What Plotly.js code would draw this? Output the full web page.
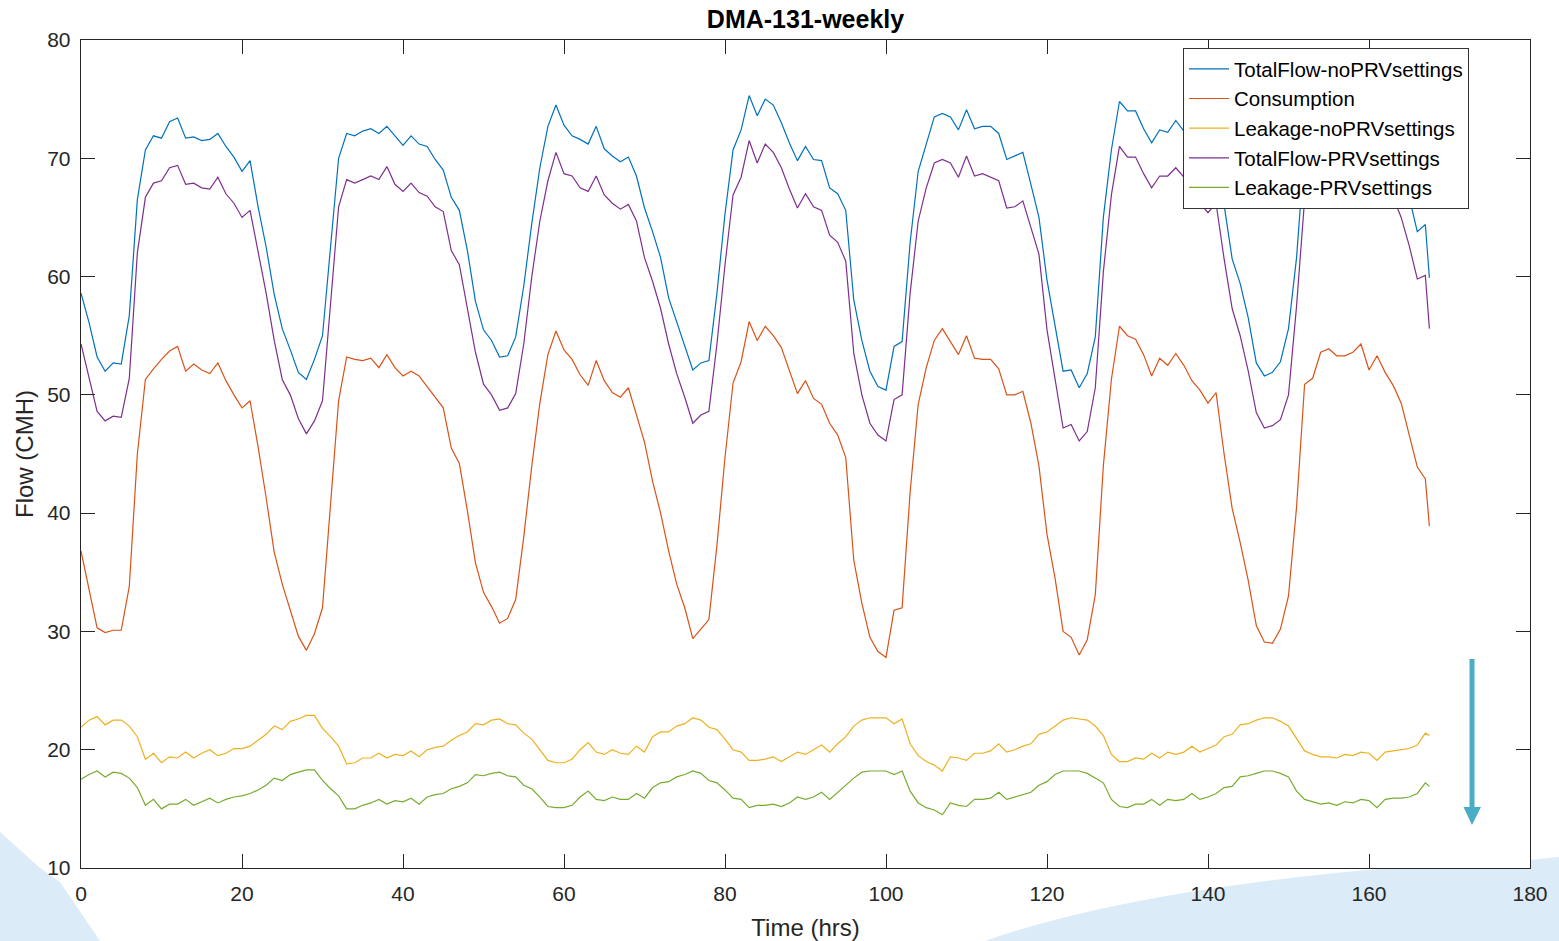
<!DOCTYPE html>
<html>
<head>
<meta charset="utf-8">
<script src="https://cdn.plot.ly/plotly-3.0.1.min.js"></script>
<style>
  html, body { margin: 0; padding: 0; background: #ffffff; }
  #chart { width: 1559px; height: 941px; }
</style>
</head>
<body>
<div id="chart"></div>
<script>
// ---- data (hourly readings, last sample at 167.5 h) ----
const hours = Array.from({length: 168}, (_, i) => i).concat([167.5]);

const totalFlowNoPRV = [
  58.6, 56.1, 53.2, 52.0, 52.7, 52.6, 56.7, 66.5, 70.7, 71.9,
  71.7, 73.1, 73.4, 71.7, 71.8, 71.5, 71.6, 72.1, 71.0, 70.1,
  68.9, 69.8, 65.9, 62.5, 58.5, 55.6, 53.8, 51.9, 51.3, 53.0,
  55.0, 62.5, 70.0, 72.1, 71.9, 72.3, 72.5, 72.1, 72.7, 71.9,
  71.1, 71.9, 71.2, 71.0, 69.9, 69.0, 66.7, 65.6, 62.2, 57.9,
  55.5, 54.6, 53.2, 53.3, 54.9, 59.2, 64.5, 69.2, 72.7, 74.5,
  72.8, 71.9, 71.6, 71.2, 72.7, 70.8, 70.2, 69.7, 70.1, 68.5,
  65.8, 63.8, 61.6, 58.2, 56.1, 54.1, 52.1, 52.7, 52.9, 58.6,
  65.3, 70.7, 72.4, 75.3, 73.6, 75.0, 74.5, 73.0, 71.3, 69.8,
  71.0, 69.9, 69.8, 67.5, 67.0, 65.6, 58.0, 54.6, 52.0, 50.7,
  50.4, 54.1, 54.5, 62.9, 68.9, 71.2, 73.5, 73.8, 73.5, 72.4,
  74.1, 72.5, 72.7, 72.7, 72.1, 69.9, 70.2, 70.5, 67.8, 65.0,
  59.7, 55.8, 52.0, 52.1, 50.6, 51.8, 54.9, 65.0, 70.7, 74.8,
  74.0, 74.0, 72.5, 71.3, 72.4, 72.2, 73.2, 72.3, 71.5, 70.2,
  69.4, 70.6, 66.0, 61.5, 59.4, 56.5, 52.7, 51.6, 51.9, 52.8,
  55.6, 61.6, 70.8, 71.0, 73.0, 73.3, 72.6, 72.9, 73.1, 74.1,
  71.8, 72.4, 71.7, 70.7, 69.3, 66.7, 63.8, 64.4,
  59.9
];

const consumption = [
  36.8, 33.5, 30.3, 29.9, 30.1, 30.1, 33.8, 45.0, 51.3, 52.2,
  53.0, 53.7, 54.1, 52.0, 52.6, 52.1, 51.8, 52.7, 51.2, 50.0,
  48.9, 49.5, 45.6, 41.3, 36.7, 34.0, 31.8, 29.6, 28.4, 29.8,
  32.0, 40.5, 49.5, 53.2, 53.0, 52.9, 53.1, 52.3, 53.4, 52.3,
  51.6, 52.0, 51.6, 50.7, 49.8, 48.9, 45.5, 44.2, 40.2, 35.8,
  33.3, 32.1, 30.7, 31.1, 32.7, 38.0, 44.0, 49.3, 53.4, 55.4,
  53.8, 53.0, 51.7, 50.8, 52.9, 51.2, 50.2, 49.8, 50.6, 48.4,
  46.0, 42.7, 40.0, 36.8, 34.0, 32.0, 29.4, 30.2, 31.0, 37.3,
  44.7, 51.0, 52.8, 56.2, 54.6, 55.8, 55.0, 54.0, 52.1, 50.1,
  51.2, 49.7, 49.2, 47.6, 46.6, 44.7, 36.0, 32.4, 29.5, 28.3,
  27.8, 31.8, 32.0, 41.8, 49.2, 52.3, 54.6, 55.6, 54.5, 53.4,
  55.0, 53.1, 53.0, 53.0, 52.2, 50.0, 50.0, 50.3, 47.6, 44.0,
  38.2, 34.5, 30.0, 29.5, 28.0, 29.3, 33.1, 44.0, 51.3, 55.8,
  55.0, 54.7, 53.4, 51.6, 53.1, 52.5, 53.5, 52.5, 51.2, 50.4,
  49.3, 50.2, 45.0, 40.4, 37.5, 34.3, 30.5, 29.1, 29.0, 30.2,
  33.0, 40.5, 50.9, 51.4, 53.6, 53.9, 53.3, 53.3, 53.6, 54.3,
  52.1, 53.3, 51.9, 50.8, 49.3, 46.6, 43.9, 42.9,
  38.9
];

const leakageNoPRV = [
  21.9, 22.5, 22.8, 22.1, 22.5, 22.5, 22.0, 21.1, 19.2, 19.7,
  18.9, 19.4, 19.3, 19.8, 19.3, 19.7, 20.0, 19.5, 19.7, 20.1,
  20.1, 20.3, 20.8, 21.3, 22.0, 21.7, 22.4, 22.6, 22.9, 22.9,
  21.8, 21.1, 20.3, 18.8, 18.9, 19.3, 19.3, 19.7, 19.3, 19.6,
  19.5, 19.9, 19.4, 20.0, 20.2, 20.3, 20.8, 21.2, 21.5, 22.2,
  22.1, 22.5, 22.6, 22.2, 22.1, 21.4, 20.9, 20.0, 19.1, 18.9,
  18.9, 19.2, 20.0, 20.6, 19.8, 19.6, 20.0, 19.7, 19.6, 20.3,
  19.8, 21.1, 21.5, 21.5, 22.0, 22.2, 22.7, 22.5, 21.9, 21.7,
  20.9, 20.0, 19.8, 19.1, 19.1, 19.2, 19.4, 19.0, 19.4, 19.8,
  19.6, 20.0, 20.4, 19.8, 20.5, 21.1, 22.0, 22.5, 22.7, 22.7,
  22.7, 22.2, 22.6, 20.5, 19.5, 19.0, 18.7, 18.2, 19.4, 19.3,
  19.1, 19.7, 19.7, 19.9, 20.5, 19.8, 20.0, 20.3, 20.5, 21.3,
  21.5, 22.0, 22.5, 22.7, 22.6, 22.5, 22.0, 21.2, 19.6, 19.0,
  19.0, 19.3, 19.2, 19.7, 19.3, 19.8, 19.6, 19.8, 20.3, 19.8,
  20.1, 20.4, 21.1, 21.3, 22.1, 22.2, 22.5, 22.7, 22.7, 22.4,
  22.0, 21.0, 19.9, 19.6, 19.4, 19.4, 19.3, 19.6, 19.5, 19.8,
  19.7, 19.1, 19.8, 19.9, 20.0, 20.1, 20.4, 21.4,
  21.2
];

const totalFlowPRV = [
  54.3, 51.5, 48.6, 47.8, 48.2, 48.1, 51.4, 62.0, 66.7, 67.9,
  68.1, 69.2, 69.4, 67.8, 67.9, 67.5, 67.4, 68.4, 67.0, 66.2,
  65.0, 65.6, 62.2, 58.6, 54.6, 51.3, 50.0, 48.0, 46.7, 47.8,
  49.5, 57.8, 65.9, 68.2, 67.9, 68.2, 68.5, 68.2, 69.3, 67.8,
  67.2, 67.9, 67.1, 66.8, 65.9, 65.5, 62.2, 61.0, 57.3, 53.6,
  50.9, 50.0, 48.7, 48.9, 50.1, 54.3, 60.0, 64.7, 68.1, 70.5,
  68.7, 68.5, 67.5, 67.2, 68.5, 66.9, 66.2, 65.7, 66.1, 64.7,
  61.6, 59.6, 57.3, 54.3, 51.8, 49.8, 47.6, 48.3, 48.6, 54.3,
  61.0, 66.9, 68.4, 71.5, 69.6, 71.2, 70.5, 69.2, 67.4, 65.8,
  67.0, 65.9, 65.6, 63.5, 62.9, 61.3, 53.5, 50.0, 47.6, 46.6,
  46.1, 49.6, 50.0, 58.6, 64.7, 67.5, 69.6, 69.9, 69.6, 68.4,
  70.2, 68.5, 68.7, 68.4, 68.1, 65.8, 65.9, 66.4, 64.1, 61.9,
  55.5, 51.5, 47.2, 47.5, 46.1, 46.9, 50.6, 60.4, 66.9, 71.0,
  70.1, 70.1, 68.7, 67.5, 68.5, 68.5, 69.2, 68.4, 67.5, 66.2,
  65.4, 66.2, 61.5, 57.3, 55.0, 52.0, 48.5, 47.2, 47.4, 47.9,
  50.0, 57.5, 66.5, 67.0, 69.0, 69.4, 68.6, 68.9, 69.1, 70.1,
  67.8, 68.4, 67.7, 66.7, 65.0, 62.6, 59.8, 60.1,
  55.6
];

const leakagePRV = [
  17.5, 17.9, 18.2, 17.7, 18.1, 18.0, 17.6, 16.8, 15.3, 15.8,
  15.0, 15.4, 15.4, 15.8, 15.3, 15.6, 15.9, 15.5, 15.8, 16.0,
  16.1, 16.3, 16.6, 17.0, 17.6, 17.4, 17.9, 18.1, 18.3, 18.3,
  17.4, 16.7, 16.1, 15.0, 15.0, 15.3, 15.5, 15.8, 15.4, 15.7,
  15.6, 15.9, 15.4, 16.0, 16.2, 16.3, 16.7, 16.9, 17.2, 17.9,
  17.8, 18.0, 18.1, 17.8, 17.7, 17.0, 16.7, 16.0, 15.2, 15.1,
  15.1, 15.3, 16.0, 16.5, 15.8, 15.7, 16.0, 15.8, 15.8, 16.3,
  15.9, 16.8, 17.2, 17.3, 17.7, 17.9, 18.2, 18.0, 17.4, 17.2,
  16.6, 15.9, 15.8, 15.1, 15.3, 15.3, 15.4, 15.2, 15.5, 16.0,
  15.8, 16.0, 16.4, 15.8, 16.4, 17.0, 17.6, 18.1, 18.2, 18.2,
  18.2, 17.9, 18.2, 16.5, 15.5, 15.1, 14.9, 14.5, 15.5, 15.3,
  15.2, 15.8, 15.8, 15.9, 16.4, 15.8, 16.0, 16.2, 16.4, 17.0,
  17.3, 17.9, 18.2, 18.2, 18.2, 18.0, 17.6, 17.2, 15.8, 15.2,
  15.1, 15.4, 15.4, 15.8, 15.3, 15.8, 15.7, 15.8, 16.3, 15.8,
  16.0, 16.3, 16.8, 16.9, 17.7, 17.8, 18.0, 18.2, 18.2, 18.0,
  17.7, 16.5, 15.8, 15.6, 15.4, 15.5, 15.3, 15.6, 15.5, 15.8,
  15.7, 15.1, 15.8, 15.9, 15.9, 16.0, 16.3, 17.2,
  16.9
];

const seriesNames = ['TotalFlow-noPRVsettings', 'Consumption', 'Leakage-noPRVsettings', 'TotalFlow-PRVsettings', 'Leakage-PRVsettings'];
const seriesColors = ['#0072BD', '#D95319', '#EDB120', '#7E2F8E', '#77AC30'];
const seriesValues = [totalFlowNoPRV, consumption, leakageNoPRV, totalFlowPRV, leakagePRV];

const xTicks = [0, 20, 40, 60, 80, 100, 120, 140, 160, 180];
const yTicks = [10, 20, 30, 40, 50, 60, 70, 80];

// ---- decoration helpers (pixel -> paper) ----
const W = 1559, H = 941, ML = 81, MR = 29, MT = 40, MB = 73;
const PW = W - ML - MR, PH = H - MT - MB;
function px(x) { return ((x - ML) / PW).toFixed(5); }
function py(y) { return ((H - MB - y) / PH).toFixed(5); }
function pt(x, y) { return px(x) + ',' + py(y); }

const leftDeco = 'M ' + pt(0, 832) + ' L ' + pt(40, 868) + ' L ' + pt(60, 882) +
  ' L ' + pt(100, 941) + ' L ' + pt(0, 941) + ' Z';
const rightDeco = 'M ' + pt(985, 941) + ' Q ' + pt(1130, 890) + ' ' + pt(1390, 868) +
  ' L ' + pt(1530, 868) + ' L ' + pt(1530, 860) + ' L ' + pt(1559, 857) +
  ' L ' + pt(1559, 941) + ' Z';
const arrowPath = 'M ' + pt(1469.5, 659) + ' L ' + pt(1474.5, 659) + ' L ' + pt(1474.5, 807) +
  ' L ' + pt(1481, 807) + ' L ' + pt(1472, 825) + ' L ' + pt(1463.5, 807) +
  ' L ' + pt(1469.5, 807) + ' Z';

const traces = seriesNames.map((name, i) => ({
  type: 'scatter',
  mode: 'lines',
  name: name,
  x: hours,
  y: seriesValues[i],
  line: { color: seriesColors[i], width: 1.2 },
  hoverinfo: 'x+y+name'
}));

const FONT = 'Liberation Sans, Arial, sans-serif';

const axisCommon = {
  showline: true,
  mirror: 'ticks',
  linecolor: '#262626',
  linewidth: 1.3,
  ticks: 'inside',
  ticklen: 14,
  tickwidth: 1,
  tickcolor: '#262626',
  showgrid: false,
  zeroline: false,
  tickfont: { family: FONT, size: 21, color: '#262626' }
};

const layout = {
  width: W,
  height: H,
  margin: { l: ML, r: MR, t: MT, b: MB, pad: 0 },
  paper_bgcolor: '#ffffff',
  plot_bgcolor: '#ffffff',
  font: { family: FONT, color: '#262626' },
  title: {
    text: '<b>DMA-131-weekly</b>',
    font: { family: FONT, size: 25, color: '#000000' },
    x: 0.5, xanchor: 'center', xref: 'paper',
    y: 1 - 19 / H, yanchor: 'middle', yref: 'container'
  },
  xaxis: Object.assign({}, axisCommon, {
    range: [0, 180],
    tickvals: xTicks,
    ticktext: xTicks.map(String),
    ticklabelstandoff: 6,
    title: { text: 'Time (hrs)', font: { family: FONT, size: 24, color: '#262626' }, standoff: 15 }
  }),
  yaxis: Object.assign({}, axisCommon, {
    range: [10, 80],
    tickvals: yTicks,
    ticktext: yTicks.map(String),
    ticklabelstandoff: 5,
    title: { text: 'Flow (CMH)', font: { family: FONT, size: 24, color: '#262626' }, standoff: 6 }
  }),
  legend: {
    x: (1183 - ML) / PW, xanchor: 'left',
    y: 1 - (48 - MT) / PH, yanchor: 'top',
    bgcolor: '#ffffff',
    bordercolor: '#333333',
    borderwidth: 1,
    font: { family: FONT, size: 20.5, color: '#000000' },
    tracegroupgap: 0,
    itemwidth: 40
  },
  showlegend: true,
  shapes: [
    { type: 'path', xref: 'paper', yref: 'paper', path: leftDeco, fillcolor: '#dcebf8', line: { width: 0 }, layer: 'below' },
    { type: 'path', xref: 'paper', yref: 'paper', path: rightDeco, fillcolor: '#dcebf8', line: { width: 0 }, layer: 'below' },
    { type: 'path', xref: 'paper', yref: 'paper', path: arrowPath, fillcolor: '#4BACC6', line: { width: 0 }, layer: 'above' }
  ]
};

Plotly.newPlot('chart', traces, layout, { displayModeBar: false, staticPlot: true });
</script>
</body>
</html>
